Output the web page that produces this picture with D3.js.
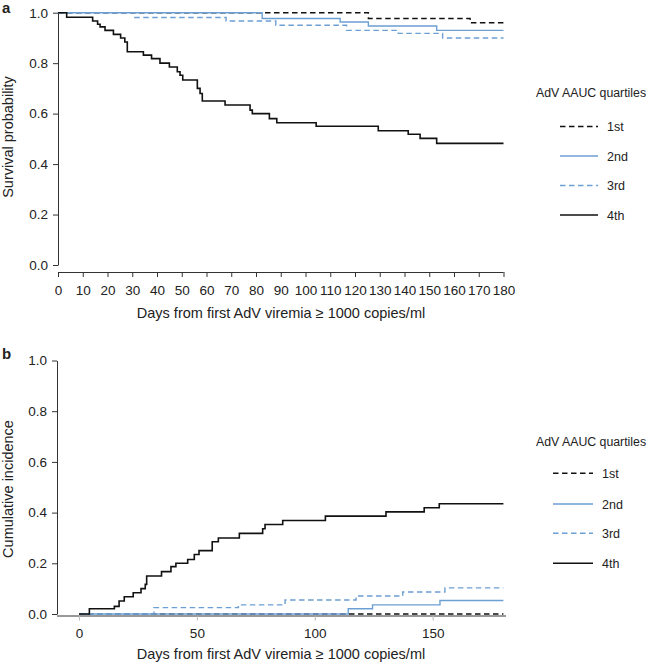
<!DOCTYPE html>
<html>
<head>
<meta charset="utf-8">
<script src="https://cdn.jsdelivr.net/npm/d3@7"></script>
<style>
  body { margin: 0; background: #fff; }
  text { font-family: "Liberation Sans", Arial, sans-serif; fill: #222; }
</style>
</head>
<body>
<svg id="chart" width="649" height="663"></svg>
<script>
// ---- data ----
var quartiles = ["1st", "2nd", "3rd", "4th"];

// panel a: survival probability, step times (days) and values
var daysA1 = [0, 125.4, 166.5];
var survA1 = [1.0, 0.977, 0.96];
var daysA2 = [0, 82.5, 114, 125.4, 153];
var survA2 = [1.0, 0.977, 0.963, 0.947, 0.93];
var daysA3 = [0, 31, 67.9, 88, 116.6, 137.5, 155.4];
var survA3 = [1.0, 0.981, 0.967, 0.95, 0.93, 0.918, 0.90];
var daysA4 = [0, 3.5, 14, 16, 17, 19, 22.4, 25.3, 27, 28, 34.5, 37.8, 41.2, 45, 48.2, 49.3, 50.4,
              56.3, 57.4, 58.3, 67.5, 77.6, 78.5, 85.4, 88.4, 104.3, 129.4, 141.5, 146.3, 153];
var survA4 = [1.0, 0.982, 0.967, 0.954, 0.944, 0.93, 0.914, 0.90, 0.884, 0.845, 0.832, 0.818, 0.80, 0.785, 0.766, 0.752, 0.733,
              0.70, 0.68, 0.65, 0.634, 0.614, 0.60, 0.58, 0.564, 0.55, 0.532, 0.518, 0.502, 0.482];

// panel b: cumulative incidence
var daysB1 = [0];
var incB1 = [0];
var daysB2 = [0, 114.2, 124.5, 153.1];
var incB2 = [0, 0.021, 0.036, 0.053];
var daysB3 = [0, 31.8, 67.6, 87.4, 117.5, 137.3, 155.2];
var incB3 = [0, 0.025, 0.036, 0.055, 0.071, 0.087, 0.103];
var daysB4 = [0, 4.4, 15, 17, 19.2, 23, 26.3, 28.1, 28.7, 35, 39, 41.1, 46.1, 48.9, 50.9, 56.5, 59.1,
              68, 77.9, 78.9, 86.4, 104.5, 130.2, 146.4, 152.8];
var incB4 = [0, 0.021, 0.03, 0.051, 0.068, 0.084, 0.10, 0.117, 0.15, 0.167, 0.187, 0.20, 0.215, 0.235, 0.25, 0.285, 0.30,
             0.318, 0.336, 0.353, 0.369, 0.386, 0.403, 0.419, 0.435];

var maxDay = 180;
var xTicksA = d3.range(0, 181, 10);
var xTicksB = [0, 50, 100, 150];
var yTicks = [0, 0.2, 0.4, 0.6, 0.8, 1.0];
var xTitle = "Days from first AdV viremia \u2265 1000 copies/ml";
var legendTitle = "AdV AAUC quartiles";

// styles per quartile
var blue = "#6c9fd3";
var styles = [
  {color: "#111", dash: "5.5,3.5", width: 1.4},
  {color: blue, dash: null, width: 1.4},
  {color: blue, dash: "5.5,3.5", width: 1.4},
  {color: "#111", dash: null, width: 1.6}
];

var svg = d3.select("#chart");

function toPoints(days, vals) {
  var pts = days.map(function (d, i) { return [d, vals[i]]; });
  pts.push([maxDay, vals[vals.length - 1]]);
  return pts;
}

function drawPanel(opt) {
  var g = svg.append("g");
  var x = d3.scaleLinear().domain([0, maxDay]).range(opt.xRange);
  var y = d3.scaleLinear().domain([0, 1]).range(opt.yRange);

  // y axis
  var yAxis = d3.axisLeft(y).tickValues(yTicks).tickFormat(d3.format(".1f")).tickSize(5).tickSizeOuter(0).tickPadding(5);
  var ya = g.append("g").attr("transform", "translate(" + opt.yAxisX + ",0)").call(yAxis);
  ya.selectAll("text").style("font-size", "13.5px");
  ya.selectAll("path, line").attr("stroke", "#333");

  // x axis
  var xAxis = d3.axisBottom(x).tickValues(opt.xTicks).tickSize(5).tickSizeOuter(0).tickPadding(8);
  var xa = g.append("g").attr("transform", "translate(0," + opt.xAxisY + ")").call(xAxis);
  xa.selectAll("text").style("font-size", "13.5px");
  xa.selectAll("line").attr("stroke", opt.xTickColor);
  xa.select(".domain").attr("stroke", "#333").attr("d", "M" + opt.xLine[0] + ",0.5H" + opt.xLine[1]);

  // curves
  var line = d3.line()
    .x(function (d) { return x(d[0]); })
    .y(function (d) { return y(d[1]); })
    .curve(d3.curveStepAfter);

  opt.series.forEach(function (s, i) {
    var st = styles[i];
    g.append("path")
      .attr("d", line(toPoints(s[0], s[1])))
      .attr("fill", "none")
      .attr("stroke", st.color)
      .attr("stroke-width", st.width)
      .attr("stroke-dasharray", st.dash);
  });

  // axis titles
  g.append("text")
    .attr("x", 281).attr("y", opt.xTitleY)
    .attr("text-anchor", "middle")
    .style("font-size", "14.5px")
    .text(xTitle);
  g.append("text")
    .attr("transform", "translate(13," + opt.yTitleY + ") rotate(-90)")
    .attr("text-anchor", "middle")
    .style("font-size", "14.5px")
    .text(opt.yTitle);

  // panel letter
  g.append("text")
    .attr("x", 2).attr("y", opt.letterY)
    .style("font-size", "15px").style("font-weight", "bold")
    .text(opt.letter);

  // legend
  var lg = g.append("g");
  lg.append("text")
    .attr("x", opt.legend.x).attr("y", opt.legend.titleY + 4)
    .style("font-size", "12.3px")
    .text(legendTitle);
  quartiles.forEach(function (q, i) {
    var st = styles[i];
    var yy = opt.legend.rows[i];
    lg.append("line")
      .attr("x1", opt.legend.lineX[0]).attr("x2", opt.legend.lineX[1])
      .attr("y1", yy).attr("y2", yy)
      .attr("stroke", st.color)
      .attr("stroke-width", st.width)
      .attr("stroke-dasharray", st.dash);
    lg.append("text")
      .attr("x", opt.legend.textX).attr("y", yy + 4.5)
      .style("font-size", "12.5px")
      .text(q);
  });
}

drawPanel({
  letter: "a", letterY: 13,
  xRange: [58, 503.5], yRange: [265, 12.7],
  yAxisX: 58, xAxisY: 272, xTicks: xTicksA, xTickColor: "#333", xLine: [58, 503.5],
  xTitleY: 317.5, yTitle: "Survival probability", yTitleY: 137,
  series: [[daysA1, survA1], [daysA2, survA2], [daysA3, survA3], [daysA4, survA4]],
  legend: {x: 536, titleY: 93, rows: [126.5, 156, 185.5, 215], lineX: [560, 598], textX: 607}
});

drawPanel({
  letter: "b", letterY: 359,
  xRange: [79, 503.4], yRange: [614, 360.5],
  yAxisX: 57, xAxisY: 615.5, xTicks: xTicksB, xTickColor: "#bbb", xLine: [57, 506],
  xTitleY: 659, yTitle: "Cumulative incidence", yTitleY: 489,
  series: [[daysB1, incB1], [daysB2, incB2], [daysB3, incB3], [daysB4, incB4]],
  legend: {x: 536, titleY: 441.7, rows: [473.3, 504, 533.3, 563.3], lineX: [553, 593], textX: 602}
});
</script>
</body>
</html>
